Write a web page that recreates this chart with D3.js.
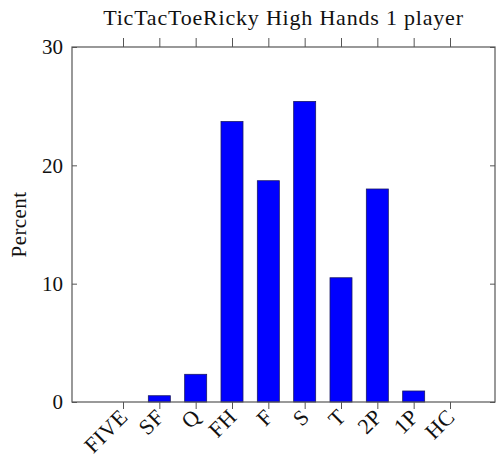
<!DOCTYPE html>
<html>
<head>
<meta charset="utf-8">
<script src="https://cdn.jsdelivr.net/npm/d3@7"></script>
<style>
  html, body { margin: 0; padding: 0; background: #fff; }
  svg { display: block; }
  text { font-family: "Liberation Serif", "DejaVu Serif", serif; fill: #111; }
</style>
</head>
<body>
<script>
const categories = ["FIVE", "SF", "Q", "FH", "F", "S", "T", "2P", "1P", "HC"];
const percents   = [0.0, 0.53, 2.34, 23.7, 18.7, 25.4, 10.5, 18.0, 0.93, 0.0];
const yTicks     = [0, 10, 20, 30];
const titleText  = "TicTacToeRicky High Hands 1 player";
const yLabel     = "Percent";

(function () {
const W = 496, H = 464;
const box = { left: 72, right: 495, top: 47, bottom: 402 };

const svg = d3.select("body").append("svg").attr("width", W).attr("height", H);

const x = d3.scalePoint().domain(categories).range([123, 450]);
const y = d3.scaleLinear().domain([0, 30]).range([box.bottom, box.top]);
const barW = 22;
const axisColor = "#555";

// bars
svg.append("g").selectAll("rect").data(categories).join("rect")
  .attr("x", d => x(d) - barW / 2)
  .attr("width", barW)
  .attr("y", (d, i) => y(percents[i]))
  .attr("height", (d, i) => y(0) - y(percents[i]))
  .attr("fill", "#0000ff")
  .attr("stroke", "#1a1a66")
  .attr("stroke-width", 0.8);

// left axis (ticks inward, labels outside)
const leftAxis = svg.append("g").attr("transform", `translate(${box.left},0)`)
  .call(d3.axisLeft(y).tickValues(yTicks).tickSize(-5).tickPadding(9).tickFormat(d3.format("d")));
leftAxis.select(".domain").remove();
leftAxis.selectAll(".tick line").attr("stroke", axisColor);
leftAxis.selectAll(".tick text").attr("font-size", 21).style("font-family", "'Liberation Serif', serif").attr("fill", "#111");

// right axis ticks (inward, no labels)
const rightAxis = svg.append("g").attr("transform", `translate(${box.right},0)`)
  .call(d3.axisRight(y).tickValues(yTicks).tickSize(-5).tickFormat(""));
rightAxis.select(".domain").remove();
rightAxis.selectAll(".tick line").attr("stroke", axisColor);

// bottom axis (ticks outward, rotated labels)
const bottomAxis = svg.append("g").attr("transform", `translate(0,${box.bottom})`)
  .call(d3.axisBottom(x).tickSize(7).tickFormat(""));
bottomAxis.select(".domain").remove();
bottomAxis.selectAll(".tick line").attr("stroke", axisColor);

svg.append("g").selectAll("text").data(categories).join("text")
  .attr("transform", d => `translate(${x(d) - 5},${box.bottom + 5}) rotate(-45)`)
  .attr("text-anchor", "end")
  .attr("dy", "0.72em")
  .attr("font-size", 22)
  .attr("letter-spacing", 0.5)
  .text(d => d);

// top axis ticks (outward)
const topAxis = svg.append("g").attr("transform", `translate(0,${box.top})`)
  .call(d3.axisTop(x).tickSize(9).tickFormat(""));
topAxis.select(".domain").remove();
topAxis.selectAll(".tick line").attr("stroke", axisColor);

// frame
svg.append("rect")
  .attr("x", box.left).attr("y", box.top)
  .attr("width", box.right - box.left).attr("height", box.bottom - box.top)
  .attr("fill", "none").attr("stroke", axisColor).attr("stroke-width", 1.2);

// title
svg.append("text")
  .attr("x", (box.left + box.right) / 2).attr("y", 25)
  .attr("text-anchor", "middle").attr("font-size", 22)
  .attr("letter-spacing", 0.8)
  .text(titleText);

// y label
svg.append("text")
  .attr("transform", `translate(26,${(box.top + box.bottom) / 2}) rotate(-90)`)
  .attr("text-anchor", "middle").attr("font-size", 21)
  .attr("letter-spacing", 0.4)
  .text(yLabel);
})();
</script>
</body>
</html>
